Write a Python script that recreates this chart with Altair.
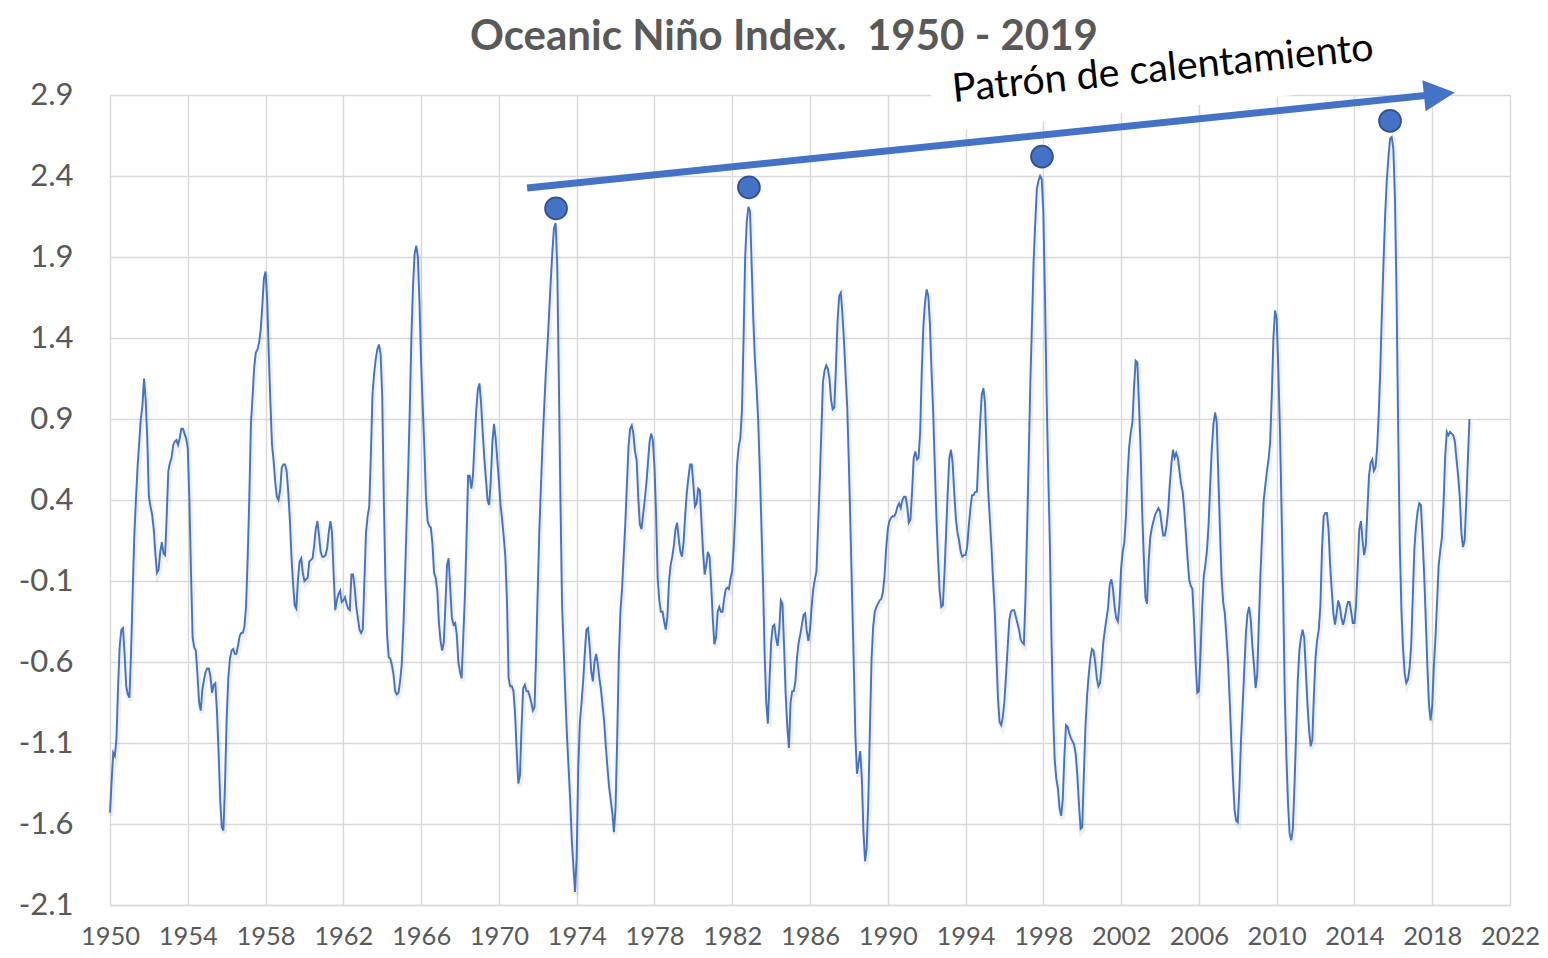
import altair as alt
import pandas as pd

# Monthly Oceanic Niño Index values (12 per year)
oni_1950s = [
    -1.53, -1.34, -1.16, -1.18, -1.07, -0.75, -0.50, -0.40, -0.39, -0.55, -0.75, -0.80,
    -0.82, -0.54, -0.17, 0.18, 0.40, 0.60, 0.75, 0.90, 0.98, 1.15, 1.02, 0.78,
    0.42, 0.36, 0.31, 0.22, 0.07, -0.05, -0.03, 0.08, 0.14, 0.07, 0.06, 0.30,
    0.58, 0.63, 0.66, 0.74, 0.76, 0.77, 0.74, 0.78, 0.84, 0.84, 0.81, 0.78,
    0.72, 0.40, -0.05, -0.45, -0.51, -0.53, -0.68, -0.85, -0.90, -0.77, -0.71, -0.66,
    -0.64, -0.64, -0.69, -0.79, -0.74, -0.73, -0.90, -1.15, -1.45, -1.62, -1.64, -1.35,
    -0.95, -0.70, -0.58, -0.53, -0.52, -0.55, -0.55, -0.50, -0.44, -0.42, -0.42, -0.38,
    -0.25, 0.05, 0.42, 0.88, 1.04, 1.22, 1.31, 1.33, 1.37, 1.45, 1.60, 1.77,
    1.81, 1.64, 1.30, 1.00, 0.74, 0.64, 0.51, 0.42, 0.40, 0.46, 0.60, 0.62,
    0.62, 0.58, 0.45, 0.28, 0.05, -0.12, -0.25, -0.27, -0.09, 0.02, 0.04, -0.05,
]
oni_1960s = [
    -0.10, -0.09, -0.08, 0.02, 0.03, 0.04, 0.12, 0.22, 0.27, 0.18, 0.08, 0.05,
    0.05, 0.06, 0.10, 0.20, 0.27, 0.20, -0.05, -0.28, -0.22, -0.18, -0.16, -0.23,
    -0.22, -0.20, -0.24, -0.27, -0.28, -0.06, -0.06, -0.14, -0.26, -0.33, -0.40, -0.42,
    -0.40, -0.10, 0.20, 0.30, 0.36, 0.68, 1.05, 1.18, 1.27, 1.33, 1.36, 1.30,
    1.05, 0.40, -0.10, -0.43, -0.57, -0.58, -0.62, -0.68, -0.78, -0.80, -0.79, -0.72,
    -0.62, -0.40, -0.10, 0.24, 0.57, 0.95, 1.40, 1.72, 1.92, 1.97, 1.90, 1.62,
    1.25, 0.98, 0.72, 0.42, 0.27, 0.24, 0.23, 0.13, -0.05, -0.08, -0.16, -0.36,
    -0.47, -0.53, -0.48, -0.25, 0.00, 0.04, -0.15, -0.33, -0.37, -0.36, -0.43, -0.60,
    -0.66, -0.70, -0.45, -0.20, 0.15, 0.55, 0.55, 0.47, 0.55, 0.76, 0.95, 1.08,
    1.12, 1.00, 0.82, 0.66, 0.53, 0.40, 0.37, 0.52, 0.76, 0.87, 0.78, 0.65,
]
oni_1970s = [
    0.52, 0.37, 0.28, 0.17, 0.05, -0.22, -0.70, -0.75, -0.75, -0.78, -0.92, -1.15,
    -1.35, -1.30, -1.00, -0.76, -0.74, -0.78, -0.78, -0.81, -0.85, -0.90, -0.88, -0.55,
    -0.15, 0.22, 0.50, 0.76, 0.98, 1.19, 1.36, 1.55, 1.75, 1.93, 2.08, 2.11,
    1.85, 1.15, 0.40, -0.25, -0.52, -0.80, -1.05, -1.25, -1.45, -1.70, -1.86, -2.02,
    -1.80, -1.25, -0.97, -0.85, -0.72, -0.55, -0.40, -0.39, -0.50, -0.66, -0.72, -0.60,
    -0.55, -0.61, -0.70, -0.77, -0.87, -0.97, -1.12, -1.25, -1.37, -1.45, -1.53, -1.65,
    -1.50, -1.08, -0.58, -0.29, -0.15, 0.05, 0.25, 0.49, 0.73, 0.84, 0.86, 0.81,
    0.70, 0.65, 0.42, 0.25, 0.22, 0.31, 0.40, 0.50, 0.63, 0.76, 0.81, 0.77,
    0.61, 0.32, -0.08, -0.22, -0.29, -0.29, -0.35, -0.40, -0.32, -0.10, 0.00, 0.05,
    0.12, 0.22, 0.26, 0.16, 0.08, 0.05, 0.14, 0.31, 0.45, 0.54, 0.62, 0.62,
]
oni_1980s = [
    0.50, 0.36, 0.38, 0.47, 0.46, 0.27, 0.08, -0.06, 0.00, 0.08, 0.05, -0.12,
    -0.33, -0.49, -0.45, -0.29, -0.26, -0.29, -0.29, -0.21, -0.15, -0.14, -0.15, -0.08,
    -0.04, 0.12, 0.34, 0.62, 0.73, 0.78, 0.95, 1.40, 1.90, 2.12, 2.21, 2.18,
    1.85, 1.52, 1.27, 1.10, 0.90, 0.60, 0.25, -0.10, -0.55, -0.85, -0.98, -0.72,
    -0.48, -0.38, -0.37, -0.45, -0.50, -0.40, -0.22, -0.24, -0.50, -0.80, -1.00, -1.13,
    -0.85, -0.78, -0.78, -0.72, -0.57, -0.48, -0.43, -0.37, -0.31, -0.30, -0.41, -0.47,
    -0.40, -0.26, -0.15, -0.09, -0.04, 0.24, 0.51, 0.82, 1.13, 1.20, 1.23, 1.21,
    1.15, 1.02, 0.96, 0.97, 1.22, 1.50, 1.66, 1.68, 1.55, 1.38, 1.17, 0.97,
    0.62, 0.22, -0.20, -0.60, -1.05, -1.29, -1.22, -1.15, -1.32, -1.65, -1.83, -1.75,
    -1.45, -1.00, -0.58, -0.38, -0.29, -0.26, -0.24, -0.22, -0.21, -0.17, -0.07, 0.10,
]
oni_1990s = [
    0.22, 0.27, 0.29, 0.30, 0.30, 0.32, 0.36, 0.38, 0.35, 0.40, 0.42, 0.42,
    0.36, 0.26, 0.28, 0.45, 0.66, 0.70, 0.65, 0.66, 0.82, 1.20, 1.48, 1.62,
    1.70, 1.66, 1.49, 1.20, 0.95, 0.62, 0.30, 0.05, -0.16, -0.26, -0.25, -0.05,
    0.20, 0.45, 0.66, 0.71, 0.63, 0.45, 0.29, 0.20, 0.15, 0.08, 0.05, 0.06,
    0.06, 0.11, 0.24, 0.35, 0.43, 0.43, 0.45, 0.45, 0.67, 0.88, 1.05, 1.09,
    1.00, 0.70, 0.45, 0.28, 0.11, -0.10, -0.28, -0.55, -0.82, -0.97, -0.99, -0.94,
    -0.84, -0.68, -0.51, -0.34, -0.29, -0.28, -0.28, -0.32, -0.36, -0.40, -0.46, -0.48,
    -0.49, -0.20, 0.22, 0.67, 1.13, 1.49, 1.87, 2.11, 2.32, 2.37, 2.40, 2.38,
    2.18, 1.67, 1.06, 0.58, 0.15, -0.45, -0.90, -1.20, -1.32, -1.38, -1.50, -1.55,
    -1.45, -1.18, -0.99, -1.00, -1.04, -1.07, -1.09, -1.11, -1.17, -1.30, -1.48, -1.63,
]
oni_2000s = [
    -1.62, -1.30, -1.00, -0.81, -0.68, -0.58, -0.52, -0.53, -0.60, -0.70, -0.75, -0.73,
    -0.62, -0.48, -0.40, -0.33, -0.26, -0.12, -0.09, -0.15, -0.26, -0.33, -0.35, -0.24,
    -0.02, 0.08, 0.14, 0.30, 0.55, 0.73, 0.82, 0.88, 1.10, 1.26, 1.25, 1.00,
    0.72, 0.33, 0.05, -0.20, -0.24, 0.02, 0.17, 0.23, 0.27, 0.31, 0.33, 0.35,
    0.33, 0.25, 0.18, 0.18, 0.24, 0.33, 0.49, 0.62, 0.71, 0.66, 0.69, 0.66,
    0.58, 0.50, 0.45, 0.34, 0.19, 0.04, -0.09, -0.13, -0.15, -0.35, -0.60, -0.79,
    -0.78, -0.55, -0.27, -0.07, 0.00, 0.09, 0.25, 0.50, 0.72, 0.87, 0.94, 0.88,
    0.55, 0.22, -0.08, -0.23, -0.30, -0.44, -0.60, -0.83, -1.08, -1.31, -1.51, -1.58,
    -1.59, -1.38, -1.08, -0.87, -0.65, -0.43, -0.30, -0.26, -0.34, -0.50, -0.62, -0.76,
    -0.68, -0.36, -0.06, 0.18, 0.40, 0.49, 0.58, 0.65, 0.76, 1.05, 1.40, 1.57,
]
oni_2010s = [
    1.52, 1.22, 0.84, 0.35, -0.17, -0.80, -1.18, -1.47, -1.66, -1.70, -1.63, -1.36,
    -1.05, -0.72, -0.53, -0.45, -0.40, -0.45, -0.65, -0.86, -1.02, -1.12, -1.08, -0.80,
    -0.57, -0.46, -0.40, -0.25, 0.10, 0.30, 0.32, 0.32, 0.22, 0.00, -0.16, -0.30,
    -0.37, -0.30, -0.22, -0.26, -0.33, -0.37, -0.33, -0.27, -0.23, -0.23, -0.29, -0.36,
    -0.36, -0.25, -0.02, 0.22, 0.27, 0.15, 0.06, 0.12, 0.34, 0.55, 0.63, 0.65,
    0.58, 0.60, 0.72, 0.93, 1.22, 1.58, 1.88, 2.17, 2.38, 2.52, 2.63, 2.64,
    2.57, 2.27, 1.66, 0.84, 0.12, -0.28, -0.52, -0.67, -0.73, -0.71, -0.64, -0.50,
    -0.20, 0.10, 0.24, 0.33, 0.38, 0.37, 0.17, -0.05, -0.33, -0.62, -0.86, -0.96,
    -0.87, -0.63, -0.45, -0.23, 0.00, 0.09, 0.17, 0.38, 0.67, 0.82, 0.80, 0.82,
    0.81, 0.80, 0.76, 0.65, 0.55, 0.42, 0.20, 0.11, 0.15, 0.38, 0.65, 0.90,
]
start_year = 1950

# Tick labels
x_ticks = [1950, 1954, 1958, 1962, 1966, 1970, 1974, 1978, 1982, 1986,
           1990, 1994, 1998, 2002, 2006, 2010, 2014, 2018, 2022]
y_ticks = [-2.1, -1.6, -1.1, -0.6, -0.1, 0.4, 0.9, 1.4, 1.9, 2.4, 2.9]

# Annotation: peak markers and trend arrow (in data units)
peak_years = [1972.94, 1982.86, 1997.93, 2015.83]
peak_marks = [2.20, 2.33, 2.52, 2.74]
arrow_start = [1971.45, 2.326]
arrow_end = [2017.9, 2.900]
arrow_head = [2018.37, 2.905]
label_pos = [2004.21, 2.986]
box_pos = [2004.0, 3.042]
annotation_text = "Patrón de calentamiento"
title_text = "Oceanic Niño Index. \u00a01950 - 2019"

values = oni_1950s + oni_1960s + oni_1970s + oni_1980s + oni_1990s + oni_2000s + oni_2010s
df = pd.DataFrame({
    "t": [start_year + i / 12 for i in range(len(values))],
    "oni": values,
})

BLUE = "#4472C4"
GREY = "#595959"
FONT = "Lato"

xs = alt.Scale(domain=[1950, 2022], nice=False, zero=False)
ys = alt.Scale(domain=[-2.1, 2.9], nice=False, zero=False)

x_axis = alt.Axis(values=x_ticks, format="d", title=None, grid=True, ticks=False,
                  tickSize=0, labelPadding=19, labelFontSize=25.5, labelColor=GREY,
                  labelFont=FONT, labelOverlap=False, labelFlush=False,
                  gridColor="#D9D9D9", gridWidth=1.4,
                  domainColor="#D9D9D9", domainWidth=1.4)
y_axis = alt.Axis(values=y_ticks, title=None, grid=True, ticks=False, tickSize=0,
                  labelPadding=37, labelFontSize=31, labelColor=GREY, labelFont=FONT,
                  labelExpr="replace(format(datum.value, '.1f'), '\u2212', '-')",
                  gridColor="#D9D9D9", gridWidth=1.4,
                  domain=False, labelOverlap=False, labelFlush=False)

base = alt.Chart(df)

shadow = base.mark_line(color="#000000", opacity=0.06, strokeWidth=5, yOffset=3, xOffset=1).encode(
    x=alt.X("t:Q", scale=xs, axis=x_axis),
    y=alt.Y("oni:Q", scale=ys, axis=y_axis),
)
line = base.mark_line(color=BLUE, strokeWidth=1.9).encode(
    x=alt.X("t:Q", scale=xs),
    y=alt.Y("oni:Q", scale=ys),
)

box_df = pd.DataFrame({"x": [box_pos[0]], "y": [box_pos[1]]})
box = alt.Chart(box_df).mark_point(
    shape="M-1,-0.16L1,-0.16L1,0.16L-1,0.16Z", size=211600, filled=True,
    fill="white", opacity=1, strokeWidth=0, angle=354,
).encode(x=alt.X("x:Q", scale=xs), y=alt.Y("y:Q", scale=ys))

arrow_df = pd.DataFrame({"x": [arrow_start[0]], "y": [arrow_start[1]],
                         "x2": [arrow_end[0]], "y2": [arrow_end[1]]})
shaft = alt.Chart(arrow_df).mark_rule(color=BLUE, strokeWidth=7).encode(
    x=alt.X("x:Q", scale=xs), y=alt.Y("y:Q", scale=ys), x2="x2:Q", y2="y2:Q")

head_df = pd.DataFrame({"x": [arrow_head[0]], "y": [arrow_head[1]]})
head = alt.Chart(head_df).mark_point(
    shape="M-1,-1L1,0L-1,1Z", size=961, filled=True, fill=BLUE, opacity=1,
    strokeWidth=0, angle=354.1,
).encode(x=alt.X("x:Q", scale=xs), y=alt.Y("y:Q", scale=ys))

peaks_df = pd.DataFrame({"x": peak_years, "y": peak_marks})
peaks = alt.Chart(peaks_df).mark_point(
    shape="circle", size=480, filled=True, fill=BLUE, stroke="#2F528F",
    strokeWidth=1.8, opacity=1,
).encode(x=alt.X("x:Q", scale=xs), y=alt.Y("y:Q", scale=ys))

label_df = pd.DataFrame({"x": [label_pos[0]], "y": [label_pos[1]], "text": [annotation_text]})
label = alt.Chart(label_df).mark_text(
    font=FONT, fontSize=39.5, color="#000000", align="center", baseline="alphabetic",
    angle=354.3,
).encode(x=alt.X("x:Q", scale=xs), y=alt.Y("y:Q", scale=ys), text="text:N")

title_df = pd.DataFrame({"text": [title_text]})
title = alt.Chart(title_df).mark_text(
    font=FONT, fontSize=42, fontWeight="bold", color=GREY, align="center",
    baseline="alphabetic",
).encode(x=alt.value(674), y=alt.value(-45), text="text:N")

chart = alt.layer(shadow, box, line, shaft, head, peaks, label, title).properties(
    width=1400, height=810,
    padding={"left": 102, "top": 87, "right": 30, "bottom": 45},
    autosize=alt.AutoSizeParams(type="none"),
).configure_view(stroke=None).configure(background="white")

chart.save("out.html", embed_options={"renderer": "svg", "actions": False})
